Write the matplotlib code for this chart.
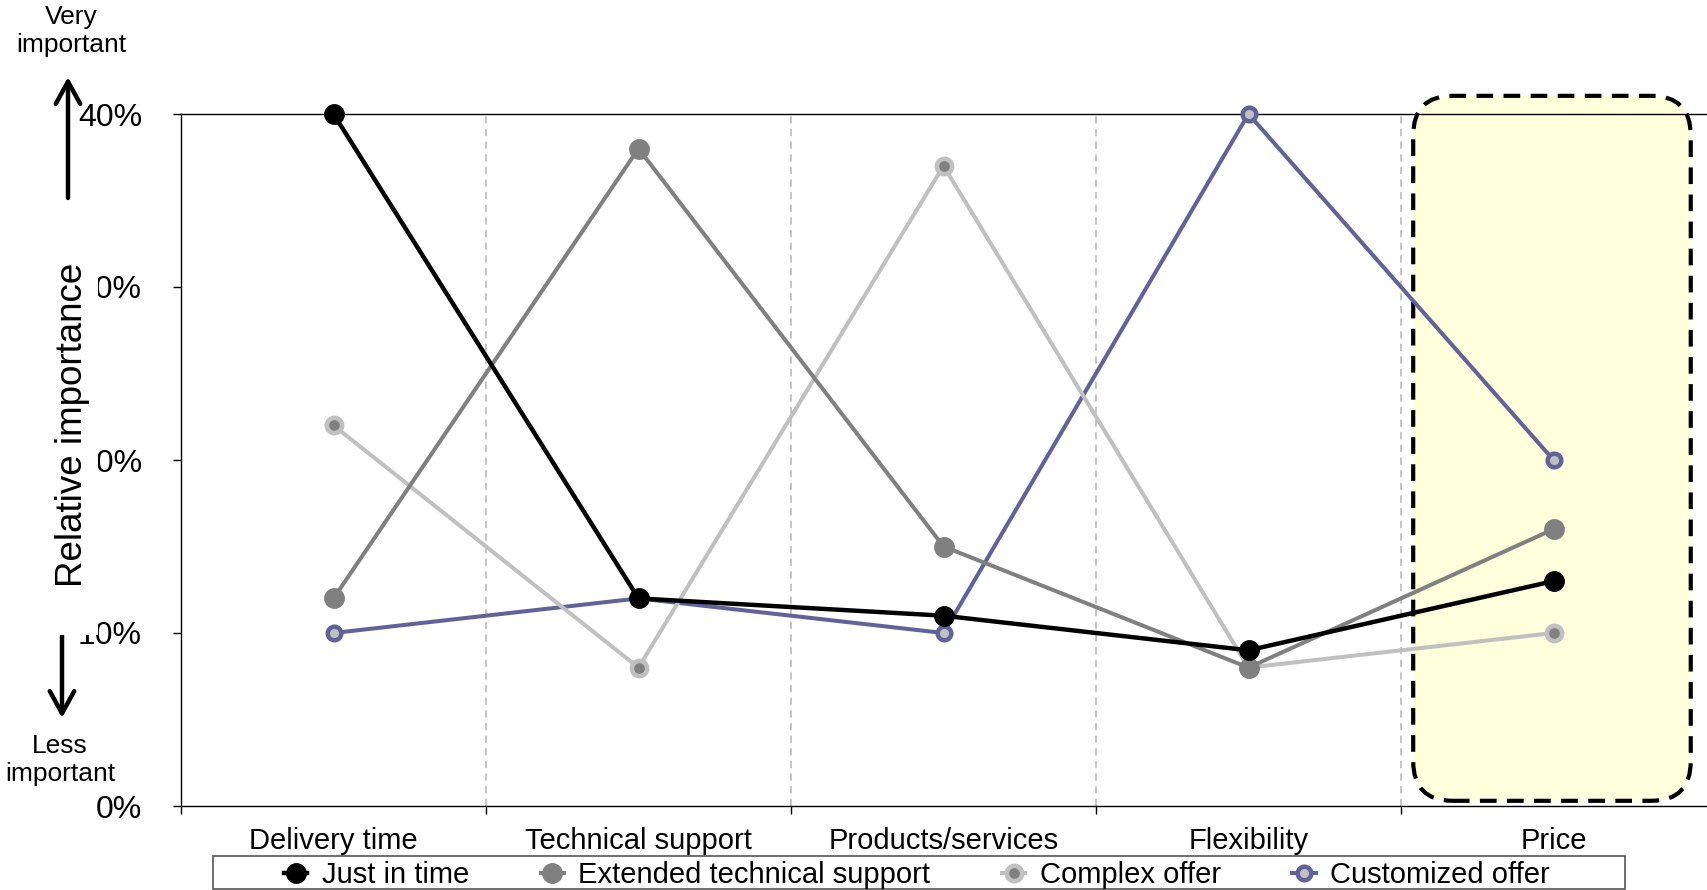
import matplotlib
matplotlib.use("Agg")
import matplotlib.pyplot as plt
from matplotlib import font_manager
from matplotlib.patches import FancyBboxPatch, Rectangle

# data (relative importance, %)
categories = ["Delivery time", "Technical support", "Products/services", "Flexibility", "Price"]
just_in_time = [40, 12, 11, 9, 13]
extended_support = [12, 38, 15, 8, 16]
complex_offer = [22, 8, 37, 8, 10]
customized_offer = [10, 12, 10, 40, 20]
series_names = ["Just in time", "Extended technical support", "Complex offer", "Customized offer"]
y_ticks = [0, 10, 20, 30, 40]
highlight = "Price"

installed = {f.name for f in font_manager.fontManager.ttflist}
base_font = "Liberation Sans" if "Liberation Sans" in installed else "DejaVu Sans"
narrow_font = "Liberation Sans Narrow" if "Liberation Sans Narrow" in installed else base_font
plt.rcParams["font.family"] = [base_font, "DejaVu Sans"]

W, H = 1708, 890
fig = plt.figure(figsize=(W / 100, H / 100), dpi=100)
ax_box = [181 / W, 84 / H, 1525 / W, 692 / H]
ax = fig.add_axes(ax_box)

x = list(range(len(categories)))
purple = "#62629a"
styles = [
    dict(color="black", lw=3.2, marker="o", ms=14, mfc="black", mec="black", mew=1, zorder=6),
    dict(color="#808080", lw=2.9, marker="o", ms=14, mfc="#808080", mec="#808080", mew=1, zorder=5),
    dict(color="#c0c0c0", lw=2.9, marker="o", ms=11, mfc="#808080", mec="#c0c0c0", mew=3.3, zorder=4),
    dict(color=purple, lw=2.9, marker="o", ms=9.8, mfc="#c0c0c0", mec=purple, mew=3.2, zorder=3),
]
series = [just_in_time, extended_support, complex_offer, customized_offer]

handles = []
for name, vals, st in zip(series_names, series, styles):
    line, = ax.plot(x, vals, label=name, clip_on=False, **st)
    handles.append(line)

# category separators
for b in [i + 0.5 for i in x[:-1]]:
    ax.axvline(b, color="#c0c0c0", lw=1.3, ls=(0, (4, 3)), zorder=0.3)

ax.set_xlim(-0.5, len(categories) - 0.5)
ax.set_ylim(0, 40)
ax.set_yticks(y_ticks)
ax.set_yticklabels([f"{v}%" for v in y_ticks])
ax.tick_params(axis="y", direction="out", length=6, width=1, pad=22, labelsize=23)

ax.set_xticks([i - 0.5 for i in x])
ax.set_xticklabels([])
ax.tick_params(axis="x", which="major", direction="out", length=6, width=1)
ax.set_xticks(x, minor=True)
ax.set_xticklabels(categories, minor=True, fontsize=21, family=[narrow_font, "DejaVu Sans"])
ax.tick_params(axis="x", which="minor", length=0, pad=15)

for side in ["left", "bottom", "top"]:
    ax.spines[side].set_color("black")
    ax.spines[side].set_linewidth(1.0)
ax.spines["right"].set_visible(False)

# highlighted Price column
hi = categories.index(highlight)
px_per_x = ax_box[2] * W / (len(categories))
px_per_y = ax_box[3] * H / 40
box = FancyBboxPatch((hi - 0.46, 0.3), 0.91, 40.75,
                     boxstyle="round,pad=0,rounding_size=0.13",
                     mutation_aspect=px_per_x / px_per_y,
                     fc="#ffffdc", ec="black", lw=3, ls=(0, (4, 2.5)),
                     clip_on=False, zorder=0.5)
ax.add_patch(box)

# white patch over the old axis title, with the English one on top
fig.add_artist(Rectangle((40 / W, 255 / H), 58 / W, 379 / H, transform=fig.transFigure,
                         fc="white", ec="none", zorder=2))
fig.text(73 / W, 465 / H, "Relative importance", rotation=90, ha="center", va="center",
         fontsize=26.5, zorder=3)

# importance arrows
arrow = dict(arrowstyle="->,head_length=0.4,head_width=0.22", lw=3.2,
             color="black", mutation_scale=40, shrinkA=0, shrinkB=0)
ax.annotate("", xy=(68, H - 77), xytext=(68, H - 198), xycoords="figure pixels",
            textcoords="figure pixels", arrowprops=arrow)
ax.annotate("", xy=(62, H - 718), xytext=(62, H - 632), xycoords="figure pixels",
            textcoords="figure pixels", arrowprops=arrow)
fig.text(71 / W, 1 - 31 / H, "Very\nimportant", ha="center", va="center", fontsize=19,
         linespacing=1.18)
fig.text(60 / W, 1 - 760 / H, "Less\nimportant", ha="center", va="center", fontsize=19,
         linespacing=1.18)

# legend: frame drawn separately, entries centred inside it
fig.add_artist(Rectangle((213 / W, 1 / H), 1412 / W, 33 / H, transform=fig.transFigure,
                         fc="white", ec="#555555", lw=1.2, zorder=2))
leg = fig.legend(handles, series_names, loc="center", bbox_to_anchor=(917 / W, 15 / H),
                 ncol=4, prop={"family": [narrow_font, "DejaVu Sans"], "size": 21},
                 frameon=False, borderpad=0, borderaxespad=0, columnspacing=2.45,
                 handlelength=0.8, handletextpad=0.5, markerscale=1.0)
leg.set_zorder(3)

fig.savefig("out.png", dpi=100)
